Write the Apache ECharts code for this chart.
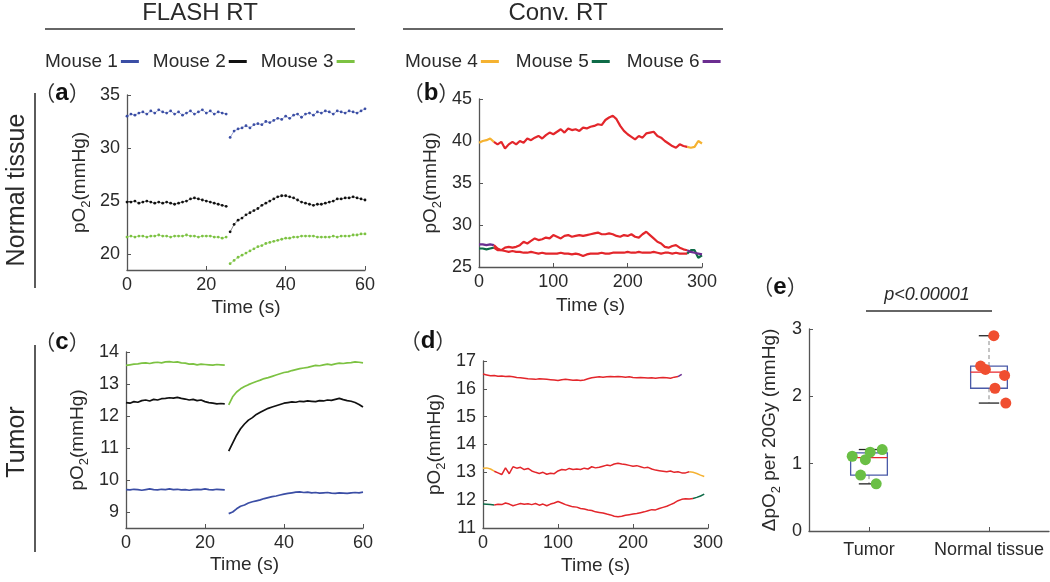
<!DOCTYPE html>
<html>
<head>
<meta charset="utf-8">
<script src="https://cdn.jsdelivr.net/npm/echarts@6/dist/echarts.min.js"></script>
<style>html,body{margin:0;padding:0;background:#fff}#c{width:1050px;height:582px}</style>
</head>
<body>
<div id="c"></div>
<script>
// ---------- DATA ----------
// FLASH RT time bases (s)
const flashTimeBefore = [0,1,2,3,4,5,6,7,8,9,10,11,12,13,14,15,16,17,18,19,20,21,22,23,24,25];
const flashTimeAfter = [26,27,28,29,30,31,32,33,34,35,36,37,38,39,40,41,42,43,44,45,46,47,48,49,50,51,52,53,54,55,56,57,58,59,60];

// (a) Normal tissue, FLASH
const aMouse1Before = [33.0,33.2,33.1,33.3,33.4,33.2,33.5,33.3,33.6,33.4,33.3,33.5,33.2,33.4,33.1,33.3,33.5,33.2,33.4,33.6,33.3,33.5,33.2,33.4,33.3,33.2];
const aMouse1After = [31.0,31.6,31.8,31.9,32.1,31.9,32.2,32.3,32.2,32.5,32.4,32.6,32.8,32.7,33.0,32.8,33.1,33.2,32.9,33.2,33.3,33.1,33.4,33.3,33.5,33.4,33.2,33.5,33.4,33.3,33.5,33.4,33.3,33.5,33.7];
const aMouse2Before = [24.9,24.9,25.0,24.8,24.9,25.0,24.9,24.8,24.9,24.8,24.9,24.8,24.7,24.8,24.9,25.0,25.2,25.3,25.2,25.1,25.0,24.9,24.8,24.7,24.6,24.5];
const aMouse2After = [22.1,22.8,23.2,23.4,23.7,23.9,24.1,24.3,24.6,24.8,25.0,25.2,25.4,25.5,25.5,25.4,25.3,25.1,24.9,24.8,24.7,24.6,24.7,24.7,24.8,24.9,25.0,25.2,25.2,25.3,25.3,25.4,25.3,25.2,25.1];
const aMouse3Before = [21.6,21.7,21.6,21.7,21.7,21.6,21.7,21.7,21.8,21.7,21.7,21.6,21.7,21.7,21.7,21.8,21.7,21.7,21.6,21.7,21.7,21.7,21.6,21.6,21.5,21.6];
const aMouse3After = [19.1,19.4,19.7,19.9,20.1,20.3,20.5,20.7,20.8,21.0,21.1,21.2,21.3,21.4,21.5,21.5,21.6,21.6,21.7,21.7,21.7,21.7,21.6,21.6,21.6,21.6,21.7,21.6,21.7,21.7,21.7,21.8,21.8,21.9,21.9];

// (c) Tumor, FLASH
const cMouse1Before = [9.70,9.69,9.71,9.70,9.68,9.70,9.72,9.70,9.69,9.71,9.70,9.72,9.70,9.71,9.69,9.70,9.68,9.70,9.71,9.70,9.72,9.70,9.69,9.71,9.70,9.69];
const cMouse1After = [8.95,9.00,9.10,9.18,9.22,9.28,9.32,9.35,9.38,9.42,9.45,9.48,9.50,9.53,9.56,9.58,9.60,9.62,9.63,9.61,9.62,9.60,9.61,9.59,9.60,9.61,9.59,9.58,9.60,9.59,9.58,9.60,9.61,9.60,9.62];
const cMouse2Before = [12.42,12.40,12.45,12.43,12.48,12.50,12.47,12.52,12.50,12.54,12.55,12.57,12.56,12.58,12.55,12.53,12.50,12.52,12.48,12.50,12.45,12.42,12.40,12.38,12.39,12.38];
const cMouse2After = [10.90,11.15,11.40,11.60,11.75,11.87,11.95,12.05,12.12,12.18,12.24,12.28,12.32,12.36,12.40,12.42,12.44,12.43,12.46,12.45,12.47,12.46,12.45,12.48,12.47,12.50,12.49,12.52,12.55,12.51,12.48,12.46,12.42,12.36,12.28];
const cMouse3Before = [13.58,13.60,13.62,13.63,13.65,13.66,13.64,13.67,13.68,13.66,13.69,13.70,13.68,13.69,13.66,13.65,13.62,13.63,13.60,13.62,13.61,13.60,13.59,13.61,13.60,13.59];
const cMouse3After = [12.35,12.60,12.75,12.85,12.92,12.98,13.03,13.08,13.12,13.17,13.20,13.24,13.28,13.32,13.36,13.38,13.42,13.45,13.48,13.50,13.52,13.55,13.58,13.57,13.60,13.62,13.60,13.63,13.65,13.64,13.66,13.67,13.69,13.68,13.66];

// Conventional RT time base (s)
const convTime = [0,5,10,15,20,25,30,35,40,45,50,55,60,65,70,75,80,85,90,95,100,105,110,115,120,125,130,135,140,145,150,155,160,165,170,175,180,185,190,195,200,205,210,215,220,225,230,235,240,245,250,255,260,265,270,275,280,285,290,295,300];

// (b) Normal tissue, Conv RT
const bMouse4 = [39.8,40.0,40.1,40.3,39.9,39.6,39.9,39.1,39.6,39.9,39.6,40.0,39.8,40.3,40.1,40.4,40.6,40.3,40.7,41.0,40.8,41.1,41.4,41.0,41.5,41.3,41.4,41.2,41.6,41.5,41.7,41.8,42.0,41.9,42.5,42.8,43.0,42.6,41.8,41.2,40.8,40.5,40.2,40.6,40.4,40.9,41.0,41.1,40.6,40.4,40.0,39.7,39.4,39.2,39.6,39.4,39.3,39.2,39.3,40.0,39.7];
const bMouse5 = [27.2,27.2,27.1,27.2,27.3,27.0,27.0,26.9,26.8,26.9,26.8,26.8,26.7,26.7,26.8,26.7,26.6,26.7,26.6,26.6,26.6,26.6,26.7,26.6,26.6,26.5,26.6,26.5,26.3,26.5,26.6,26.6,26.6,26.7,26.6,26.6,26.7,26.7,26.7,26.7,26.8,26.7,26.7,26.8,26.7,26.7,26.7,26.8,26.7,26.6,26.7,26.7,26.6,26.7,26.6,26.6,26.6,27.0,27.0,26.1,26.4];
const bMouse6 = [27.7,27.7,27.6,27.7,27.6,27.2,27.0,27.3,27.4,27.3,27.4,27.6,28.0,27.8,28.1,28.4,28.2,28.3,28.5,28.4,28.8,28.6,28.4,28.7,28.8,28.6,28.7,28.8,28.7,28.8,28.9,29.0,29.1,28.9,28.9,29.0,28.9,28.7,28.6,28.8,28.7,28.9,28.6,28.5,28.9,29.2,28.8,28.4,28.0,27.8,27.4,27.3,27.5,27.6,27.3,27.1,27.0,26.8,26.7,26.6,26.5];
const bRtStart = [20, 20, 20];
const bRtEnd = [280, 280, 280];

// (d) Tumor, Conv RT
const dMouse4 = [13.15,13.16,13.12,13.04,12.98,12.92,13.16,12.95,13.20,13.15,13.18,13.10,13.14,13.05,13.00,12.96,13.00,12.93,12.97,12.95,13.05,13.10,13.08,13.14,13.10,13.12,13.10,13.15,13.12,13.20,13.16,13.18,13.22,13.26,13.24,13.30,13.33,13.30,13.28,13.25,13.22,13.24,13.20,13.16,13.18,13.12,13.08,13.06,13.04,13.02,13.05,13.00,13.02,12.98,12.98,13.02,13.00,12.96,12.90,12.85,null];
const dMouse5 = [11.86,11.85,11.84,11.83,11.85,11.84,11.90,11.86,11.80,11.84,11.88,11.85,11.87,11.84,11.88,11.82,11.86,11.80,11.86,11.90,11.95,11.90,11.84,11.80,11.76,11.75,11.70,11.68,11.65,11.63,11.58,11.56,11.54,11.50,11.47,11.42,11.40,11.42,11.46,11.48,11.50,11.52,11.55,11.58,11.62,11.66,11.65,11.70,11.74,11.78,11.84,11.90,11.98,12.03,12.05,12.04,12.06,12.10,12.15,12.22,null];
const dMouse6 = [16.53,16.50,16.47,16.48,16.45,16.46,16.44,16.45,16.43,16.41,16.40,16.38,16.36,16.35,16.34,16.36,16.35,16.34,16.33,16.32,16.30,16.33,16.34,16.33,16.31,16.32,16.30,16.32,16.36,16.40,16.42,16.43,16.42,16.43,16.44,16.43,16.44,16.43,16.42,16.43,16.41,16.40,16.41,16.40,16.39,16.40,16.38,16.40,16.41,16.40,16.38,16.42,16.44,16.52,null,null,null,null,null,null,null];
const dRtStart = [15, 15, 0];
const dRtEnd = [275, 280, 260];

// (e) delta pO2 per 20 Gy
const groupNames = ['Tumor', 'Normal tissue'];
const groupPos = [1, 2];
const tumorJitterX = [0.86, 0.93, 0.97, 1.01, 1.06, 1.11];
const tumorDelta = [1.11, 0.83, 1.06, 1.17, 0.70, 1.21];
const normalJitterX = [1.93, 1.97, 2.04, 2.05, 2.13, 2.14];
const normalDelta = [2.45, 2.40, 2.90, 2.12, 2.31, 1.90];
const boxLow = [0.70, 1.90];
const boxQ1 = [0.83, 2.12];
const boxMedian = [1.09, 2.36];
const boxQ3 = [1.16, 2.45];
const boxHigh = [1.21, 2.90];

// y tick labels
const aTicks = [20, 25, 30, 35];
const cTicks = [9, 10, 11, 12, 13, 14];

// ---------- STYLE ----------
const FONT = '"Liberation Sans", Arial, sans-serif';
const CJK = '"Noto Sans CJK SC", "Liberation Sans", sans-serif';
const TXT = '#2a2a2a';
const AX = '#555';
const C = {m1:'#3b4ea5', m2:'#111111', m3:'#7cc242', m4:'#f5b231', m5:'#0e6b47', m6:'#6b2d90', rt:'#e3262b'};

function pairs(t, v) { return t.map((x, i) => [x, v[i]]); }
function flashData(b, a) {
  return pairs(flashTimeBefore, b).concat([[25.5, null]], pairs(flashTimeAfter, a));
}
function seg(vals, lo, hi) {
  const out = [];
  convTime.forEach((t, i) => { if (t >= lo && t <= hi && vals[i] != null) out.push([t, vals[i]]); });
  return out;
}
function colored(vals, s, e) {
  return seg(vals, -1, s).concat([[(s + e) / 2, null]], seg(vals, e, 400));
}

const subRich = { s: { fontSize: 13, fontFamily: FONT, color: TXT, padding: [13, 0, 0, 0] } };
function yAx(gi, min, max, extra) {
  return Object.assign({
    type: 'value', gridIndex: gi, min: min, max: max,
    name: 'pO{s|2}(mmHg)', nameLocation: 'middle', nameGap: 34,
    nameTextStyle: { fontSize: 19, fontFamily: FONT, color: TXT, rich: subRich },
    axisLine: { show: true, lineStyle: { color: AX, width: 1.3 } },
    axisTick: { show: true, inside: true, length: 4, lineStyle: { color: AX } },
    axisLabel: { fontSize: 18, fontFamily: FONT, color: TXT, margin: 7 },
    splitLine: { show: false }
  }, extra || {});
}
function xAx(gi, max, interval, gap) {
  return {
    type: 'value', gridIndex: gi, min: 0, max: max, interval: interval,
    name: 'Time (s)', nameLocation: 'middle', nameGap: gap,
    nameTextStyle: { fontSize: 19, fontFamily: FONT, color: TXT },
    axisLine: { show: true, lineStyle: { color: AX, width: 1.3 } },
    axisTick: { show: true, inside: true, length: 4, lineStyle: { color: AX } },
    axisLabel: { fontSize: 18, fontFamily: FONT, color: TXT, margin: 6 },
    splitLine: { show: false }
  };
}

function flashSeries(name, color, xi, data, isA) {
  return {
    type: 'line', name: name, xAxisIndex: xi, yAxisIndex: xi, data: data,
    color: color, connectNulls: false, animation: false,
    showSymbol: isA, symbol: 'circle', symbolSize: 2.8,
    lineStyle: { color: color, width: isA ? 0.7 : 1.7, opacity: isA ? 0.7 : 1 },
    itemStyle: { color: color }, z: 3
  };
}
function convSeries(name, color, xi, vals, s, e) {
  return [
    { type: 'line', name: name, xAxisIndex: xi, yAxisIndex: xi, data: colored(vals, s, e), color: color,
      showSymbol: false, connectNulls: false, animation: false, lineStyle: { color: color, width: xi === 1 ? 2.2 : 1.5 }, z: 3 },
    { type: 'line', name: 'RT ' + name, xAxisIndex: xi, yAxisIndex: xi, data: seg(vals, s, e), color: C.rt,
      showSymbol: false, animation: false, lineStyle: { color: C.rt, width: xi === 1 ? 2.2 : 1.5 }, z: 4 }
  ];
}

const series = [
  flashSeries('Mouse 1', C.m1, 0, flashData(aMouse1Before, aMouse1After), true),
  flashSeries('Mouse 2', C.m2, 0, flashData(aMouse2Before, aMouse2After), true),
  flashSeries('Mouse 3', C.m3, 0, flashData(aMouse3Before, aMouse3After), true),
  flashSeries('Mouse 1', C.m1, 2, flashData(cMouse1Before, cMouse1After), false),
  flashSeries('Mouse 2', C.m2, 2, flashData(cMouse2Before, cMouse2After), false),
  flashSeries('Mouse 3', C.m3, 2, flashData(cMouse3Before, cMouse3After), false)
].concat(
  convSeries('Mouse 4', C.m4, 1, bMouse4, bRtStart[0], bRtEnd[0]),
  convSeries('Mouse 5', C.m5, 1, bMouse5, bRtStart[1], bRtEnd[1]),
  convSeries('Mouse 6', C.m6, 1, bMouse6, bRtStart[2], bRtEnd[2]),
  convSeries('Mouse 4', C.m4, 3, dMouse4, dRtStart[0], dRtEnd[0]),
  convSeries('Mouse 5', C.m5, 3, dMouse5, dRtStart[1], dRtEnd[1]),
  convSeries('Mouse 6', C.m6, 3, dMouse6, dRtStart[2], dRtEnd[2])
);

// (e) boxes
series.push({
  type: 'custom', name: 'box', xAxisIndex: 4, yAxisIndex: 4, animation: false, z: 2,
  data: groupPos.map((x, i) => [x, boxLow[i], boxQ1[i], boxMedian[i], boxQ3[i], boxHigh[i]]),
  encode: { x: 0, y: [1, 2, 3, 4, 5] },
  renderItem: function (params, api) {
    const x = api.value(0);
    const pLo = api.coord([x, api.value(1)]), pQ1 = api.coord([x, api.value(2)]),
          pMed = api.coord([x, api.value(3)]), pQ3 = api.coord([x, api.value(4)]),
          pHi = api.coord([x, api.value(5)]);
    const hw = api.size([0.153, 0])[0], cw = api.size([0.085, 0])[0];
    const cx = pMed[0];
    return { type: 'group', children: [
      { type: 'line', shape: { x1: cx, y1: pQ3[1], x2: cx, y2: pHi[1] }, style: { stroke: '#888', lineWidth: 1, lineDash: [4, 3] } },
      { type: 'line', shape: { x1: cx, y1: pQ1[1], x2: cx, y2: pLo[1] }, style: { stroke: '#888', lineWidth: 1, lineDash: [4, 3] } },
      { type: 'line', shape: { x1: cx - cw, y1: pHi[1], x2: cx + cw, y2: pHi[1] }, style: { stroke: '#222', lineWidth: 1.3 } },
      { type: 'line', shape: { x1: cx - cw, y1: pLo[1], x2: cx + cw, y2: pLo[1] }, style: { stroke: '#222', lineWidth: 1.3 } },
      { type: 'rect', shape: { x: cx - hw, y: pQ3[1], width: 2 * hw, height: pQ1[1] - pQ3[1] }, style: { fill: 'none', stroke: '#4a5aa8', lineWidth: 1.3 } },
      { type: 'line', shape: { x1: cx - hw, y1: pMed[1], x2: cx + hw, y2: pMed[1] }, style: { stroke: '#e8262c', lineWidth: 1.3 } }
    ]};
  }
});
series.push({
  type: 'scatter', name: 'Tumor pts', xAxisIndex: 4, yAxisIndex: 4, animation: false, z: 5,
  data: pairs(tumorJitterX, tumorDelta), symbolSize: 11, itemStyle: { color: '#6abf45', opacity: 1 }
});
series.push({
  type: 'scatter', name: 'Normal pts', xAxisIndex: 4, yAxisIndex: 4, animation: false, z: 5,
  data: pairs(normalJitterX, normalDelta), symbolSize: 11, itemStyle: { color: '#f04e30', opacity: 1 }
});

function legendCfg(left, data, gap) {
  return {
    left: left, top: 47, data: data, align: 'right', icon: 'rect', itemWidth: 18, itemHeight: 3, itemGap: gap,
    selectedMode: false, textStyle: { fontSize: 19, fontFamily: FONT, color: TXT, padding: [0, -2, 0, 0] }
  };
}

function panelLabel(letter, x, y) {
  return {
    type: 'text', x: x, y: y,
    style: {
      text: '{p|（}{b|' + letter + '}{p|）}', align: 'center', verticalAlign: 'middle',
      rich: {
        p: { fontFamily: CJK, fontSize: 21, fill: '#333' },
        b: { fontFamily: FONT, fontWeight: 'bold', fontSize: 24, fill: '#111' }
      }
    }
  };
}

const option = {
  backgroundColor: '#fff',
  animation: false,
  legend: [
    legendCfg(40, ['Mouse 1', 'Mouse 2', 'Mouse 3'], 14),
    legendCfg(400, ['Mouse 4', 'Mouse 5', 'Mouse 6'], 17)
  ],
  grid: [
    { left: 127, top: 95, width: 238, height: 175 },
    { left: 479, top: 99, width: 223, height: 168 },
    { left: 126, top: 352, width: 237, height: 176 },
    { left: 483, top: 361, width: 225, height: 167 },
    { left: 809, top: 329, width: 240, height: 202 }
  ],
  xAxis: [
    xAx(0, 60, 20, 28),
    xAx(1, 300, 100, 29),
    xAx(2, 60, 20, 27),
    xAx(3, 300, 100, 28),
    {
      type: 'value', gridIndex: 4, min: 0.5, max: 2.5,
      axisLine: { show: true, lineStyle: { color: AX, width: 1.3 } },
      axisTick: { show: true, inside: true, length: 4, customValues: groupPos, lineStyle: { color: AX } },
      axisLabel: { fontSize: 18, fontFamily: FONT, color: TXT, margin: 10, customValues: groupPos,
        formatter: function (v) { return groupNames[groupPos.indexOf(v)] || ''; } },
      splitLine: { show: false }
    }
  ],
  yAxis: [
    yAx(0, 18.5, 35, { axisLabel: { fontSize: 18, fontFamily: FONT, color: TXT, margin: 7, customValues: aTicks },
      axisTick: { show: true, inside: true, length: 4, customValues: aTicks, lineStyle: { color: AX } } }),
    yAx(1, 25, 45, { interval: 5, nameGap: 35 }),
    yAx(2, 8.5, 14, { axisLabel: { fontSize: 18, fontFamily: FONT, color: TXT, margin: 7, customValues: cTicks },
      axisTick: { show: true, inside: true, length: 4, customValues: cTicks, lineStyle: { color: AX } }, nameGap: 35 }),
    yAx(3, 11, 17, { interval: 1, nameGap: 35 }),
    yAx(4, 0, 3, { interval: 1, name: '\u0394pO{s|2} per 20Gy (mmHg)', nameGap: 26 })
  ],
  series: series,
  graphic: [
    { type: 'text', x: 200, y: 13, style: { text: 'FLASH RT', font: '24px ' + FONT, fill: TXT, align: 'center', verticalAlign: 'middle' } },
    { type: 'line', shape: { x1: 45, y1: 29, x2: 355, y2: 29 }, style: { stroke: '#333', lineWidth: 1.6 } },
    { type: 'text', x: 558, y: 13, style: { text: 'Conv. RT', font: '24px ' + FONT, fill: TXT, align: 'center', verticalAlign: 'middle' } },
    { type: 'line', shape: { x1: 403, y1: 29, x2: 723, y2: 29 }, style: { stroke: '#333', lineWidth: 1.6 } },
    { type: 'text', x: 17, y: 190, rotation: Math.PI / 2, style: { text: 'Normal tissue', font: '25px ' + FONT, fill: TXT, align: 'center', verticalAlign: 'middle' } },
    { type: 'line', shape: { x1: 35, y1: 93, x2: 35, y2: 288 }, style: { stroke: '#333', lineWidth: 1.6 } },
    { type: 'text', x: 17, y: 442, rotation: Math.PI / 2, style: { text: 'Tumor', font: '25px ' + FONT, fill: TXT, align: 'center', verticalAlign: 'middle' } },
    { type: 'line', shape: { x1: 35, y1: 345, x2: 35, y2: 552 }, style: { stroke: '#333', lineWidth: 1.6 } },
    panelLabel('a', 62, 93),
    panelLabel('b', 431, 93),
    panelLabel('c', 62, 342),
    panelLabel('d', 428, 341),
    panelLabel('e', 780, 287),
    { type: 'text', x: 927, y: 295, style: { text: 'p<0.00001', font: 'italic 18px ' + FONT, fill: TXT, align: 'center', verticalAlign: 'middle' } },
    { type: 'line', shape: { x1: 866, y1: 311, x2: 992, y2: 311 }, style: { stroke: '#333', lineWidth: 1.6 } }
  ]
};

const chart = echarts.init(document.getElementById('c'), null, { renderer: 'canvas' });
chart.setOption(option);
</script>
</body>
</html>
